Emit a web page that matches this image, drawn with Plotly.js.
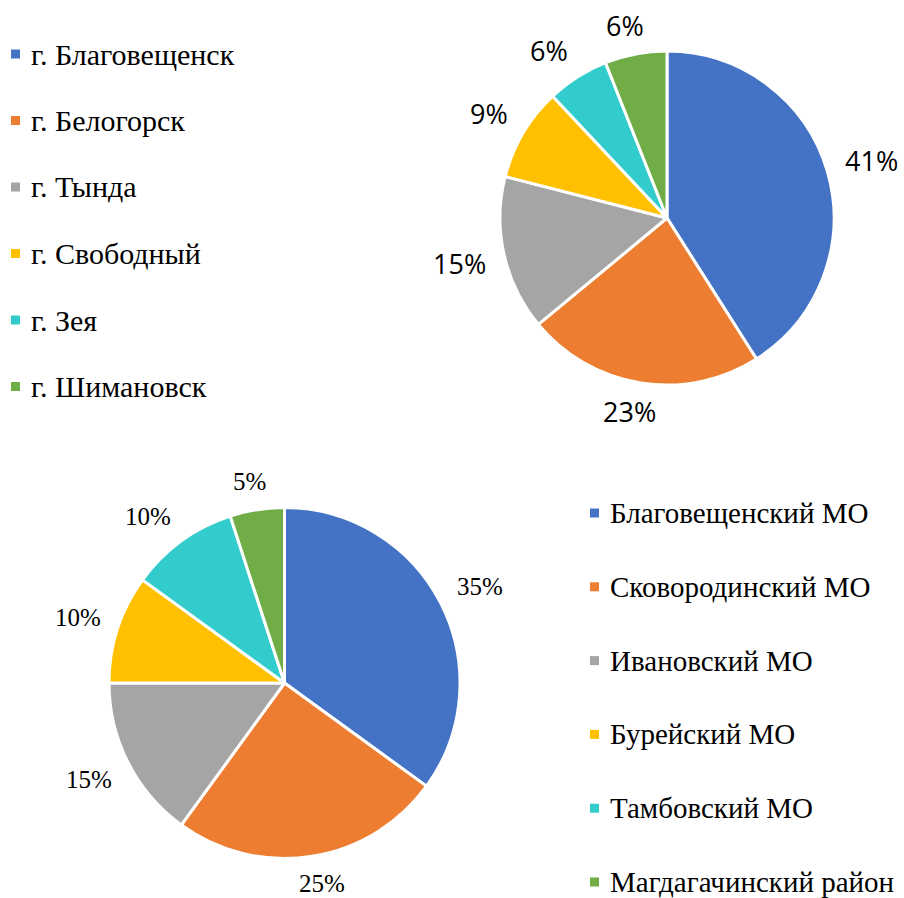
<!DOCTYPE html>
<html>
<head>
<meta charset="utf-8">
<script src="https://cdn.plot.ly/plotly-3.0.1.min.js"></script>
<style>
  html, body { margin: 0; padding: 0; background: #ffffff; }
  #chart { width: 904px; height: 898px; }
</style>
</head>
<body>
<div id="chart"></div>
<script>
// Cities (upper pie)
const cityLabels = ['г. Благовещенск', 'г. Белогорск', 'г. Тында', 'г. Свободный', 'г. Зея', 'г. Шимановск'];
const cityValues = [41, 23, 15, 9, 6, 6];

// Municipal districts (lower pie)
const districtLabels = ['Благовещенский МО', 'Сковородинский МО', 'Ивановский МО', 'Бурейский МО', 'Тамбовский МО', 'Магдагачинский район'];
const districtValues = [35, 25, 15, 10, 10, 5];

const sliceColors = ['#4472C4', '#ED7D31', '#A5A5A5', '#FFC000', '#33CCCC', '#70AD47'];

const W = 904, H = 898;
const px = x => x / W;
const py = y => 1 - y / H;

const sansFont = { family: 'Open Sans', size: 27, color: '#000000' };
const serifFont = { family: 'Liberation Serif', size: 25, color: '#000000' };

function pieTrace(labels, values, cx, cy, r) {
  return {
    type: 'pie',
    labels: labels,
    values: values,
    textinfo: 'none',
    sort: false,
    direction: 'clockwise',
    rotation: 0,
    showlegend: false,
    hoverinfo: 'label+percent',
    marker: { colors: sliceColors, line: { color: '#ffffff', width: 3 } },
    domain: { x: [px(cx - r), px(cx + r)], y: [py(cy + r), py(cy - r)] }
  };
}

const annotations = [];
const shapes = [];

const measureCtx = document.createElement('canvas').getContext('2d');
const clamp = (t, lo, hi) => Math.max(lo, Math.min(hi, t));

// Percentage labels set just outside each slice: anchored on the slice's
// mid angle, the text box is pushed away from the pie edge
function addPercentLabels(values, cx, cy, r, font, gap) {
  const total = values.reduce((a, b) => a + b, 0);
  let cum = 0;
  measureCtx.font = font.size + 'px "' + font.family + '"';
  values.forEach(v => {
    const mid = (cum + v / 2) / total * 2 * Math.PI;
    cum += v;
    const txt = Math.round(v / total * 100) + '%';
    const ux = Math.sin(mid), uy = -Math.cos(mid);
    const hw = measureCtx.measureText(txt).width / 2;
    const hh = 0.4 * font.size;
    let x = cx + (r + gap) * ux + hw * clamp(2 * ux, -1, 1);
    let y = cy + (r + gap) * uy + hh * clamp(2 * uy, -1, 1);
    y = Math.min(y, H - 0.6 * font.size);
    annotations.push({
      xref: 'paper', yref: 'paper', x: px(x), y: py(y),
      xanchor: 'center', yanchor: 'middle', showarrow: false, borderpad: 0,
      text: txt, font: Object.assign({}, font)
    });
  });
}

// Legend entries: colored square + label text
function addLegend(labels, x0, y0, step, size) {
  labels.forEach((lab, i) => {
    const y = y0 + i * step;
    shapes.push({
      type: 'rect', xref: 'paper', yref: 'paper',
      x0: px(x0), x1: px(x0 + 9), y0: py(y + 4.5), y1: py(y - 4.5),
      fillcolor: sliceColors[i], line: { width: 0 }
    });
    annotations.push({
      xref: 'paper', yref: 'paper', x: px(x0 + 18), y: py(y),
      xanchor: 'left', yanchor: 'middle', showarrow: false,
      text: lab, font: { family: 'Liberation Serif', size: size, color: '#000000' }
    });
  });
}

const traces = [
  pieTrace(cityLabels, cityValues, 667, 218, 167),
  pieTrace(districtLabels, districtValues, 284.5, 683, 175.5)
];
addPercentLabels(cityValues, 667, 218, 167, sansFont, 18);
addPercentLabels(districtValues, 284.5, 683, 175.5, serifFont, 18);
addLegend(cityLabels, 11, 54, 66.5, 30);
addLegend(districtLabels, 590, 513, 73.8, 29);

const layout = {
  width: W, height: H,
  margin: { l: 0, r: 0, t: 0, b: 0 },
  paper_bgcolor: '#ffffff',
  showlegend: false,
  annotations: annotations,
  shapes: shapes
};

Plotly.newPlot('chart', traces, layout, { displayModeBar: false, staticPlot: true });
</script>
</body>
</html>
